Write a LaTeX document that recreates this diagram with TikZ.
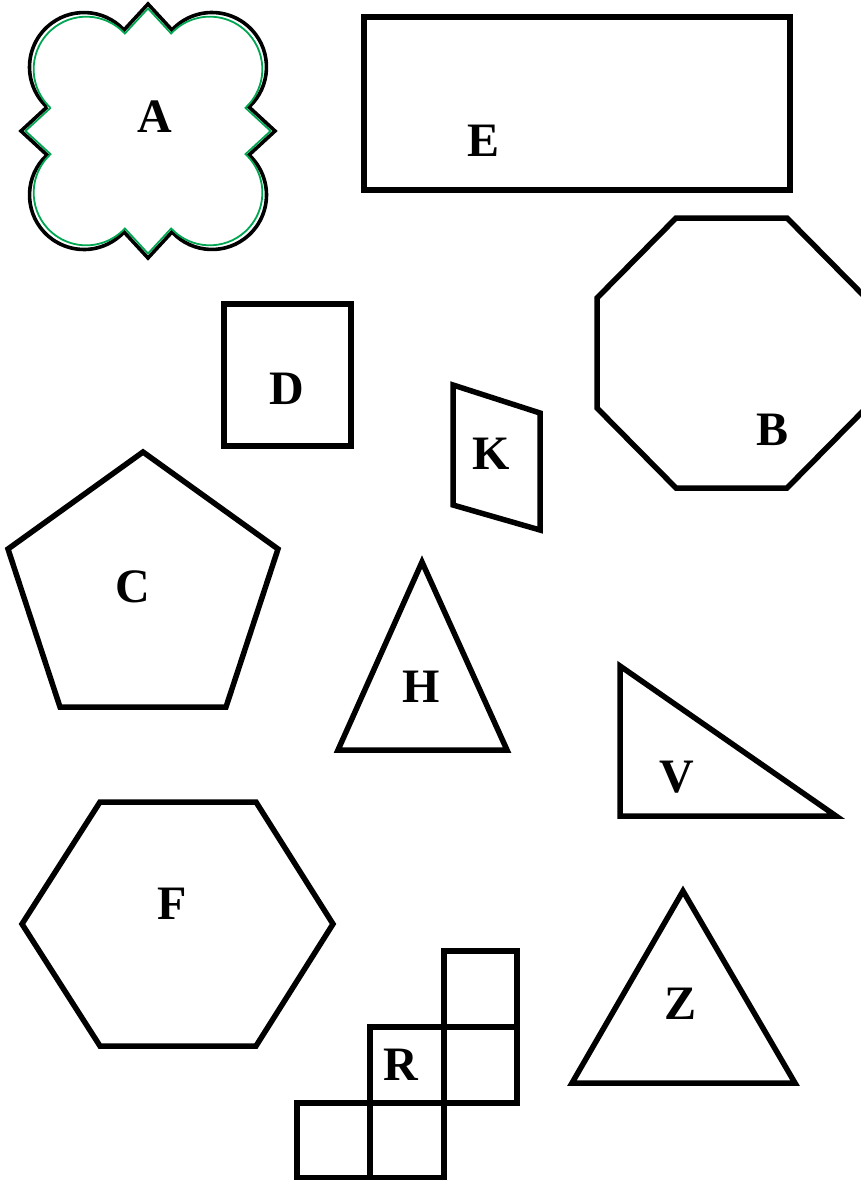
\documentclass[tikz,border=0pt]{standalone}
\usepackage{fontspec}
\setmainfont{Liberation Serif}
\definecolor{agreen}{RGB}{0,166,81}
\begin{document}
\begin{tikzpicture}[x=1pt,y=-1pt,
  shp/.style={draw=black,line width=5.5pt,line join=miter},
  lbl/.style={font=\fontsize{48}{48}\selectfont\bfseries,inner sep=0pt}]
\useasboundingbox (0,0) rectangle (861,1180);
\def\Apath{(-101,24) -- (-127,0) -- (-101,-24)
  arc[start angle=132.8,end angle=317.2,radius=54.5]
  -- (0,-127) -- (24,-101)
  arc[start angle=222.8,end angle=407.2,radius=54.5]
  -- (127,0) -- (101,24)
  arc[start angle=-47.2,end angle=137.2,radius=54.5]
  -- (0,127) -- (-24,101)
  arc[start angle=42.8,end angle=227.2,radius=54.5] -- cycle}
% A
\begin{scope}[shift={(148,131)},yscale=-1]
  \draw[black,line width=3.6pt] \Apath;
  \begin{scope}[scale=0.965]
    \draw[agreen,line width=1.8pt] \Apath;
  \end{scope}
\end{scope}
\node[lbl] (A) at (155,117) {A};
% E
\draw[shp] (364,17) rectangle (790,190);
\node[lbl] (E) at (484,141) {E};
% D
\draw[shp] (224,304) rectangle (351,446);
\node[lbl] (D) at (287,389) {D};
% K
\draw[shp] (453,385) -- (540,413) -- (540,530) -- (453,505) -- cycle;
\node[lbl] (K) at (491,454) {K};
% B
\draw[shp] (676,218) -- (787,218) -- (866,298) -- (866,408) -- (787,488) -- (676,488) -- (597,408) -- (597,298) -- cycle;
\node[lbl] (B) at (772,430) {B};
% C
\draw[shp] (143,452) -- (278,549) -- (226,707) -- (60,707) -- (8,549) -- cycle;
\node[lbl] (C) at (133,587) {C};
% H
\draw[shp] (422,562) -- (507,750) -- (338,750) -- cycle;
\node[lbl] (H) at (421,687) {H};
% V
\draw[shp] (620,666) -- (836,816) -- (620,816) -- cycle;
\node[lbl] (V) at (677,777) {V};
% F
\draw[shp] (22,924) -- (100,802) -- (256,802) -- (333,924) -- (256,1046) -- (100,1046) -- cycle;
\node[lbl] (F) at (172,904) {F};
% Z
\draw[shp] (683,891) -- (795,1083) -- (572,1083) -- cycle;
\node[lbl] (Z) at (680,1004) {Z};
% R
\draw[shp] (444,951) rectangle (517,1027);
\draw[shp] (370,1027) rectangle (444,1103);
\draw[shp] (444,1027) rectangle (517,1103);
\draw[shp] (297,1103) rectangle (370,1178);
\draw[shp] (370,1103) rectangle (444,1178);
\node[lbl] (R) at (401,1065) {R};
\end{tikzpicture}
\end{document}
